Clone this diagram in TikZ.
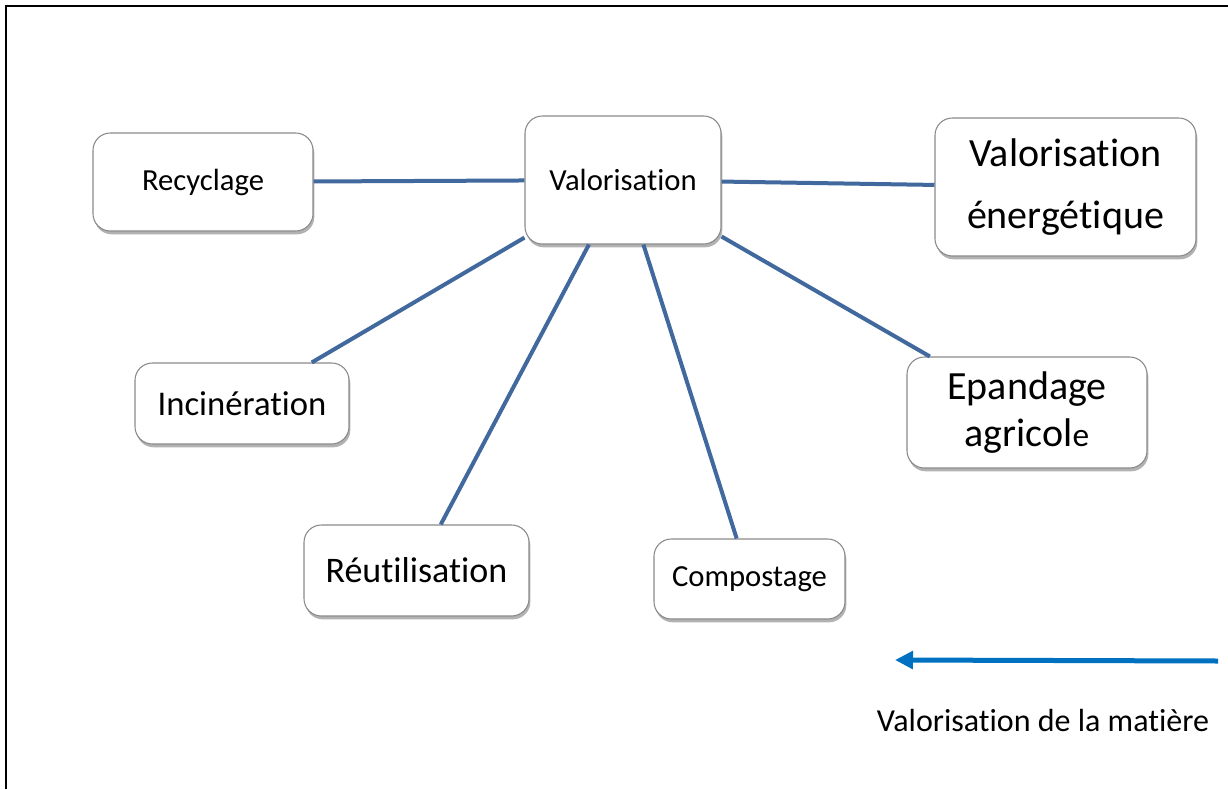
\documentclass[tikz,border=0pt]{standalone}
\usepackage{fontspec}
\setmainfont[RawFeature={-liga}]{Carlito}
\usetikzlibrary{shadows,arrows.meta}
\definecolor{linkblue}{HTML}{41699E}
\definecolor{arrowblue}{HTML}{0070C0}
\definecolor{boxline}{HTML}{8A8A8A}
\begin{document}
\begin{tikzpicture}[x=0.75pt,y=-0.75pt,
  box/.style={draw=boxline, line width=0.8pt, rounded corners=13pt, fill=white,
    drop shadow={shadow xshift=1pt, shadow yshift=-2.5pt, opacity=0.3, fill=black},
    align=center, inner sep=0pt, text=black},
  link/.style={draw=linkblue, line width=3pt},
  frame/.style={draw=black, line width=1.6pt}]
\useasboundingbox (0,0) rectangle (1228,789);
% frame
\coordinate (fbl) at (6,789);
\coordinate (ftl) at (6,6);
\coordinate (ftr) at (1228,6);
\draw[frame] (fbl) -- (ftl) -- (ftr);
% nodes
\node[box, minimum width=165pt, minimum height=73.5pt, font=\fontsize{23}{28}\selectfont] (rec) at (203,182) {Recyclage};
\node[box, minimum width=147pt, minimum height=96pt, font=\fontsize{23}{28}\selectfont] (val) at (623,180) {Valorisation};
\node[box, minimum width=195.75pt, minimum height=103.5pt, font=\fontsize{30}{47}\selectfont] (ene) at (1065.5,187) {Valorisation\\énergétique};
\node[box, minimum width=180pt, minimum height=83.25pt, font=\fontsize{30}{35}\selectfont] (epa) at (1027,412.5) {Epandage\\agricol{\fontsize{25}{30}\selectfont e}};
\node[box, minimum width=160.5pt, minimum height=60.75pt, font=\fontsize{26}{31}\selectfont] (inc) at (242,403.5) {Incinération};
\node[box, minimum width=168.75pt, minimum height=68.25pt, font=\fontsize{27}{32}\selectfont] (reu) at (416.5,570.5) {Réutilisation};
\node[box, minimum width=143.25pt, minimum height=60pt, font=\fontsize{23}{28}\selectfont] (com) at (749.5,579) {Compostage};
% links
\draw[link] (rec) -- (val);
\draw[link] (val) -- (ene);
\draw[link] (val) -- (inc);
\draw[link] (val) -- (reu);
\draw[link] (val) -- (com);
\draw[link] (val) -- (epa);
% arrow and label
\coordinate (as) at (1218,661);
\coordinate (ae) at (895,660);
\draw[draw=arrowblue, line width=3.75pt, -{Triangle[length=13.5pt,width=13pt]}] (as) -- (ae);
\node[font=\fontsize{24}{29}\selectfont, inner sep=0pt] (lbl) at (1043,720) {Valorisation de la matière};
\end{tikzpicture}
\end{document}
